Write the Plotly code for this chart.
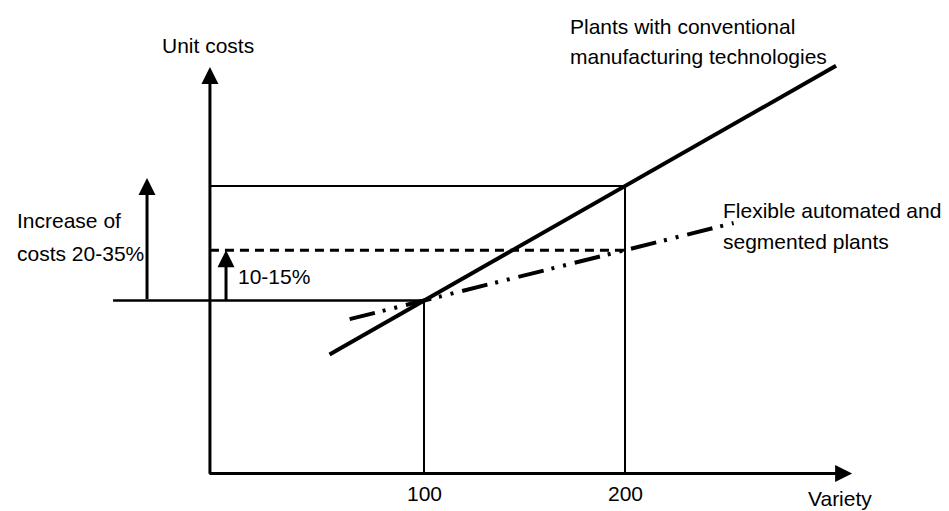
import plotly.graph_objects as go

# ---- data ----
variety_ticks = [100, 200]
tick_labels = ["100", "200"]
conv_x = [53, 100, 200, 305]          # conventional plants (variety)
conv_y = [83.5, 100, 135, 171.8]      # unit cost index
flex_x = [63, 100, 200, 254]          # flexible automated / segmented plants
flex_y = [94.3, 100, 115.4, 123.7]

# ---- layout / styling ----
OFF = 8                       # default page margin of the html body
W, H = 949 - OFF, 511 - OFF
FONT = "Liberation Sans, Arial, sans-serif"
FS = 21
BLACK = "#000000"

base = conv_y[1]
conv_hi = conv_y[2]
flex_hi = flex_y[2]
X_AX, Y_AX = -6.5, 47.1      # axis crossing
X_END, Y_END = 313, 171.4    # arrow tips of the axes
X_RANGE = [-106.97, 361.19]
Y_RANGE = [35.63, 189.45]

fig = go.Figure()
fig.add_trace(go.Scatter(x=conv_x, y=conv_y, mode="lines",
                         line=dict(color=BLACK, width=4), hoverinfo="skip"))
fig.add_trace(go.Scatter(x=flex_x, y=flex_y, mode="lines",
                         line=dict(color=BLACK, width=4,
                                   dash="26px,8px,3px,9px,3px,9px"),
                         hoverinfo="skip"))


def seg(x0, y0, x1, y1, width, dash="solid"):
    fig.add_shape(type="line", x0=x0, y0=y0, x1=x1, y1=y1, xref="x", yref="y",
                  line=dict(color=BLACK, width=width, dash=dash))


seg(variety_ticks[0], Y_AX, variety_ticks[0], base, 2)
seg(variety_ticks[1], Y_AX, variety_ticks[1], conv_hi, 2)
seg(X_AX, conv_hi, variety_ticks[1], conv_hi, 2)
seg(X_AX, flex_hi, variety_ticks[1], flex_hi, 3, "9px,6px")
seg(-54.7, base, variety_ticks[0], base, 2.5)


def arrow(x0, y0, x1, y1, width=3):
    fig.add_annotation(x=x1, y=y1, ax=x0, ay=y0, xref="x", yref="y",
                       axref="x", ayref="y", text="", showarrow=True,
                       arrowhead=2, arrowsize=17 / (5 * width),
                       arrowwidth=width, arrowcolor=BLACK, standoff=0)


arrow(X_AX, Y_AX - 0.5, X_AX, Y_END)         # y axis
arrow(X_AX - 1, Y_AX, X_END, Y_AX)           # x axis
arrow(-37.8, base, -37.8, 137.5)             # increase 20-35 %
arrow(1.5, base - 0.5, 1.5, flex_hi)         # increase 10-15 %


def label(text, px, py, anchor="left"):
    fig.add_annotation(x=(px - OFF) / W, y=1 - (py - OFF) / H,
                       xref="paper", yref="paper",
                       text=text, showarrow=False, xanchor=anchor,
                       yanchor="middle", borderpad=0, borderwidth=0,
                       font=dict(family=FONT, size=FS, color=BLACK))


label("Unit costs", 162, 46)
label("Plants with conventional", 570, 26)
label("manufacturing technologies", 570, 56)
label("Flexible automated and", 723, 211)
label("segmented plants", 723, 241)
label("Increase of", 17, 221)
label("costs 20-35%", 17, 253)
label("10-15%", 238, 276)
label("Variety", 808, 498)
for v, t in zip(variety_ticks, tick_labels):
    fig.add_annotation(x=v, y=1 - (493.5 - OFF) / H, xref="x", yref="paper",
                       text=t, showarrow=False, xanchor="center",
                       yanchor="middle", borderpad=0, borderwidth=0,
                       font=dict(family=FONT, size=FS, color=BLACK))

fig.update_layout(
    width=W, height=H, margin=dict(l=0, r=0, t=0, b=0),
    paper_bgcolor="white", plot_bgcolor="white", showlegend=False,
    xaxis=dict(visible=False, range=X_RANGE, fixedrange=True),
    yaxis=dict(visible=False, range=Y_RANGE, fixedrange=True),
)

fig.write_html("out.html")
